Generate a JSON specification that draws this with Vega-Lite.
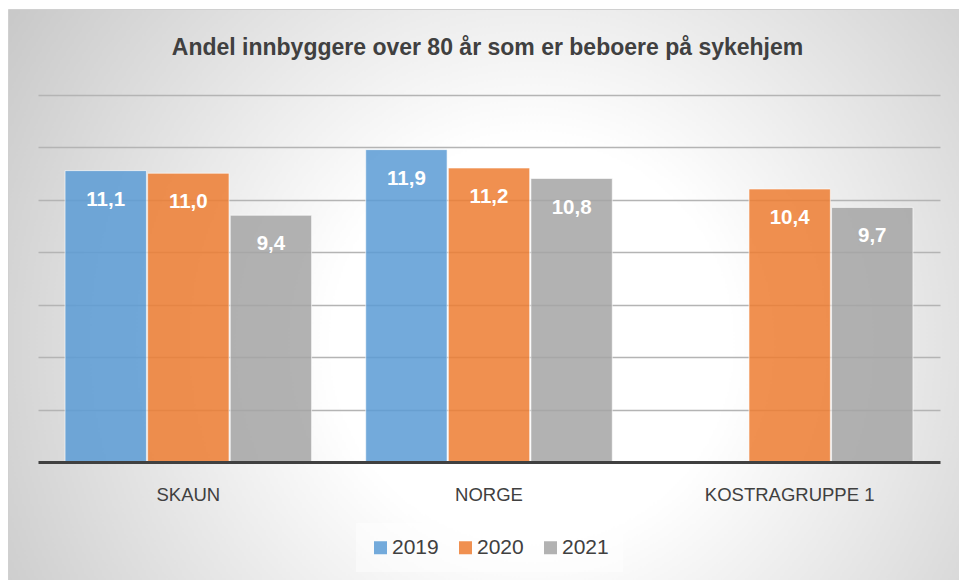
{
  "$schema": "https://vega.github.io/schema/vega-lite/v6.json",
  "width": 951,
  "height": 571,
  "padding": {"left": 8, "top": 9, "right": 0, "bottom": 0},
  "background": "#ffffff",
  "title": {
    "text": "Andel innbyggere over 80 år som er beboere på sykehjem",
    "frame": "group",
    "anchor": "middle",
    "offset": -69,
    "baseline": "alphabetic",
    "dx": 4,
    "fontSize": 23,
    "font": "Liberation Sans",
    "fontWeight": "bold",
    "color": "#404040"
  },
  "data": {
    "values": [
      {"kategori": "SKAUN", "aar": "2019", "verdi": 11.1},
      {"kategori": "SKAUN", "aar": "2020", "verdi": 11.0},
      {"kategori": "SKAUN", "aar": "2021", "verdi": 9.4},
      {"kategori": "NORGE", "aar": "2019", "verdi": 11.9},
      {"kategori": "NORGE", "aar": "2020", "verdi": 11.2},
      {"kategori": "NORGE", "aar": "2021", "verdi": 10.8},
      {"kategori": "KOSTRAGRUPPE 1", "aar": "2020", "verdi": 10.4},
      {"kategori": "KOSTRAGRUPPE 1", "aar": "2021", "verdi": 9.7}
    ]
  },
  "encoding": {
    "x": {
      "field": "kategori",
      "type": "nominal",
      "sort": ["SKAUN", "NORGE", "KOSTRAGRUPPE 1"],
      "scale": {"range": [30, 932], "paddingInner": 0.18, "paddingOuter": 0.09},
      "axis": {
        "title": null,
        "orient": "bottom",
        "offset": -118,
        "zindex": 1,
        "ticks": false,
        "tickSize": 0,
        "grid": false,
        "domain": true,
        "domainColor": "#404040",
        "domainWidth": 3,
        "labelAngle": 0,
        "labelBaseline": "alphabetic",
        "labelPadding": 38,
        "labelFont": "Liberation Sans",
        "labelFontSize": 18.5,
        "labelColor": "#404040"
      }
    },
    "xOffset": {
      "field": "aar",
      "type": "nominal",
      "sort": ["2019", "2020", "2021"],
      "scale": {"paddingInner": 0.015, "paddingOuter": 0}
    },
    "y": {
      "field": "verdi",
      "type": "quantitative",
      "scale": {"domain": [0, 14], "range": [453, 85.5], "nice": false, "zero": true},
      "axis": {
        "title": null,
        "labels": false,
        "ticks": false,
        "domain": false,
        "grid": true,
        "values": [2, 4, 6, 8, 10, 12, 14],
        "gridColor": "#b4b4b4",
        "gridWidth": 1.5
      }
    }
  },
  "layer": [
    {
      "mark": {"type": "bar", "fillOpacity": 0.85, "stroke": "#ffffff", "strokeOpacity": 0.6, "strokeWidth": 1},
      "encoding": {
        "color": {
          "field": "aar",
          "type": "nominal",
          "scale": {"domain": ["2019", "2020", "2021"], "range": ["#5b9bd5", "#ed7d31", "#a5a5a5"]},
          "legend": {
            "orient": "none",
            "legendX": 348,
            "legendY": 514,
            "direction": "horizontal",
            "title": null,
            "symbolType": "square",
            "symbolSize": 169,
            "symbolStrokeWidth": 0,
            "symbolOpacity": 0.85,
            "labelFont": "Liberation Sans",
            "labelFontSize": 21,
            "labelColor": "#404040",
            "labelOffset": 1,
            "columnPadding": 16,
            "padding": 14,
            "fillColor": "rgba(255,255,255,0.45)"
          }
        }
      }
    },
    {
      "mark": {
        "type": "text",
        "baseline": "alphabetic",
        "align": "center",
        "dy": 35,
        "font": "Liberation Sans",
        "fontSize": 20.5,
        "fontWeight": "bold",
        "color": "#ffffff"
      },
      "encoding": {
        "text": {"field": "verdi", "type": "quantitative", "format": ".1f"}
      }
    }
  ],
  "config": {
    "locale": {
      "number": {"decimal": ",", "thousands": " ", "grouping": [3], "currency": ["", " kr"]}
    },
    "view": {
      "fill": {
        "gradient": "radial",
        "x1": 0.55, "y1": 0.55, "r1": 0,
        "x2": 0.55, "y2": 0.55, "r2": 0.7,
        "stops": [
          {"offset": 0, "color": "#ffffff"},
          {"offset": 0.3, "color": "#ffffff"},
          {"offset": 1, "color": "#c2c2c2"}
        ]
      },
      "stroke": "#d0d0d0",
      "strokeWidth": 1
    }
  }
}
